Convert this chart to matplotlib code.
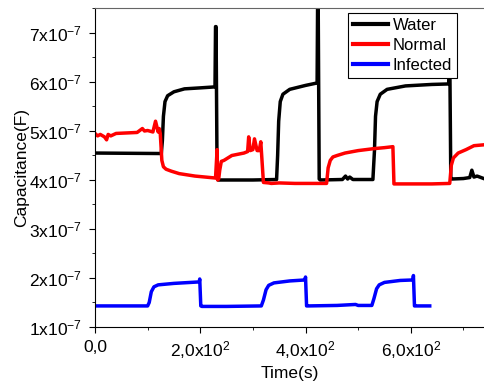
import matplotlib
matplotlib.use("Agg")
import matplotlib.pyplot as plt
from matplotlib.ticker import FixedLocator, MultipleLocator

plt.rcParams['font.family'] = ['Liberation Sans', 'DejaVu Sans']
plt.rcParams['mathtext.fontset'] = 'custom'
plt.rcParams['mathtext.rm'] = 'Liberation Sans'
plt.rcParams['mathtext.it'] = 'Liberation Sans'

# values (time in s, capacitance in F)
water_t = [0, 126, 128, 130, 133, 138, 150, 170, 200, 228, 229, 230, 232, 234, 240,
           300, 345, 347, 349, 352, 357, 370, 400, 422, 423, 424, 426, 428, 470, 476,
           480, 484, 490, 528, 531, 533, 536, 542, 555, 590, 640, 672, 673, 674, 676,
           678, 700, 712, 716, 720, 726, 741]
water_v = [4.55e-7, 4.54e-7, 4.8e-7, 5.3e-7, 5.6e-7, 5.72e-7, 5.8e-7, 5.86e-7, 5.88e-7, 5.9e-7,
           7.13e-7, 7.13e-7, 4.05e-7, 4.0e-7, 4.0e-7,
           4.0e-7, 4.01e-7, 4.5e-7, 5.2e-7, 5.6e-7, 5.75e-7, 5.85e-7, 5.93e-7, 5.98e-7, 7.7e-7, 7.7e-7,
           4.02e-7, 4.0e-7, 4.01e-7, 4.08e-7, 4.02e-7, 4.06e-7, 4.01e-7, 4.01e-7, 4.6e-7, 5.3e-7, 5.6e-7,
           5.75e-7, 5.85e-7, 5.92e-7, 5.95e-7, 5.96e-7, 6.6e-7, 6.6e-7, 4.05e-7, 4.02e-7, 4.03e-7,
           4.05e-7, 4.2e-7, 4.06e-7, 4.08e-7, 4.02e-7]

normal_t = [0, 5, 10, 18, 22, 25, 30, 40, 60, 80, 90, 94, 100, 110, 115, 120, 122, 124,
            127, 130, 135, 145, 160, 190, 229, 232, 233, 235, 237, 240, 245, 260, 283,
            290, 292, 295, 300, 303, 308, 312, 315, 320, 330, 335, 350, 380, 440, 443,
            447, 452, 460, 475, 500, 530, 550, 566, 568, 575, 600, 640, 674, 677, 681,
            690, 705, 720, 741]
normal_v = [4.95e-7, 4.9e-7, 4.93e-7, 4.88e-7, 4.82e-7, 4.93e-7, 4.9e-7, 4.95e-7, 4.96e-7,
            4.97e-7, 5.05e-7, 5.0e-7, 5.01e-7, 4.98e-7, 5.2e-7, 4.98e-7, 5.05e-7, 4.95e-7,
            4.4e-7, 4.27e-7, 4.22e-7, 4.18e-7, 4.13e-7, 4.08e-7, 4.04e-7, 4.62e-7, 4.0e-7,
            4.02e-7, 4.2e-7, 4.38e-7, 4.4e-7, 4.5e-7, 4.55e-7, 4.58e-7, 4.88e-7, 4.6e-7,
            4.62e-7, 4.84e-7, 4.6e-7, 4.6e-7, 4.78e-7, 3.95e-7, 3.94e-7, 3.93e-7, 3.94e-7,
            3.93e-7, 3.93e-7, 4.25e-7, 4.4e-7, 4.47e-7, 4.5e-7, 4.55e-7, 4.6e-7, 4.64e-7,
            4.66e-7, 4.68e-7, 3.92e-7, 3.92e-7, 3.92e-7, 3.92e-7, 3.93e-7, 4.3e-7, 4.45e-7,
            4.55e-7, 4.62e-7, 4.7e-7, 4.72e-7]

infected_t = [0, 100, 103, 107, 112, 120, 150, 198, 199, 201, 203, 250, 316, 320,
              325, 330, 340, 370, 399, 400, 402, 405, 460, 495, 500, 526, 530, 535,
              540, 550, 580, 604, 605, 607, 610, 636]
infected_v = [1.43e-7, 1.43e-7, 1.5e-7, 1.72e-7, 1.82e-7, 1.86e-7, 1.89e-7, 1.92e-7, 1.98e-7,
              1.43e-7, 1.42e-7, 1.42e-7, 1.43e-7, 1.55e-7, 1.76e-7, 1.85e-7, 1.9e-7, 1.94e-7,
              1.96e-7, 2.02e-7, 1.43e-7, 1.43e-7, 1.44e-7, 1.46e-7, 1.44e-7, 1.44e-7,
              1.58e-7, 1.78e-7, 1.86e-7, 1.91e-7, 1.95e-7, 1.96e-7, 2.05e-7, 1.43e-7,
              1.43e-7, 1.43e-7]

xticks = [0, 200, 400, 600]
xticklabels = ['0,0', r'2,0x10$^{2}$', r'4,0x10$^{2}$', r'6,0x10$^{2}$']
yticks = [1e-7, 2e-7, 3e-7, 4e-7, 5e-7, 6e-7, 7e-7]
yticklabels = [r'%dx10$^{-7}$' % i for i in range(1, 8)]

fig = plt.figure(figsize=(4.85, 3.88), dpi=100)
ax = fig.add_axes([95 / 485, 61 / 388, 390 / 485, 319 / 388])

ax.plot(water_t, water_v, color='black', lw=2.5, label='Water')
ax.plot(normal_t, normal_v, color='red', lw=2.5, label='Normal')
ax.plot(infected_t, infected_v, color='blue', lw=2.5, label='Infected')

ax.set_xlim(0, 741)
ax.set_ylim(1e-7, 7.51e-7)
ax.xaxis.set_major_locator(FixedLocator(xticks))
ax.set_xticklabels(xticklabels)
ax.xaxis.set_minor_locator(MultipleLocator(100))
ax.yaxis.set_major_locator(FixedLocator(yticks))
ax.set_yticklabels(yticklabels)
ax.yaxis.set_minor_locator(MultipleLocator(0.5e-7))
ax.tick_params(which='both', direction='out', labelsize=12.5, pad=5)
ax.tick_params(which='major', length=4)
ax.tick_params(which='minor', length=2.5)
ax.spines['right'].set_visible(False)
ax.spines['top'].set_color('#666666')

ax.set_xlabel('Time(s)', fontsize=12.5, labelpad=3)
ax.set_ylabel('Capacitance(F)', fontsize=12.5, labelpad=0)

leg = ax.legend(loc='upper right', bbox_to_anchor=(0.929, 0.984), fontsize=12,
                frameon=True, fancybox=False, framealpha=1, edgecolor='black',
                handlelength=2.1, handletextpad=0.3, borderpad=0.3, labelspacing=0.3,
                borderaxespad=0)
leg.get_frame().set_linewidth(0.8)
for line in leg.get_lines():
    line.set_linewidth(3)

fig.savefig('out.png', dpi=100)
